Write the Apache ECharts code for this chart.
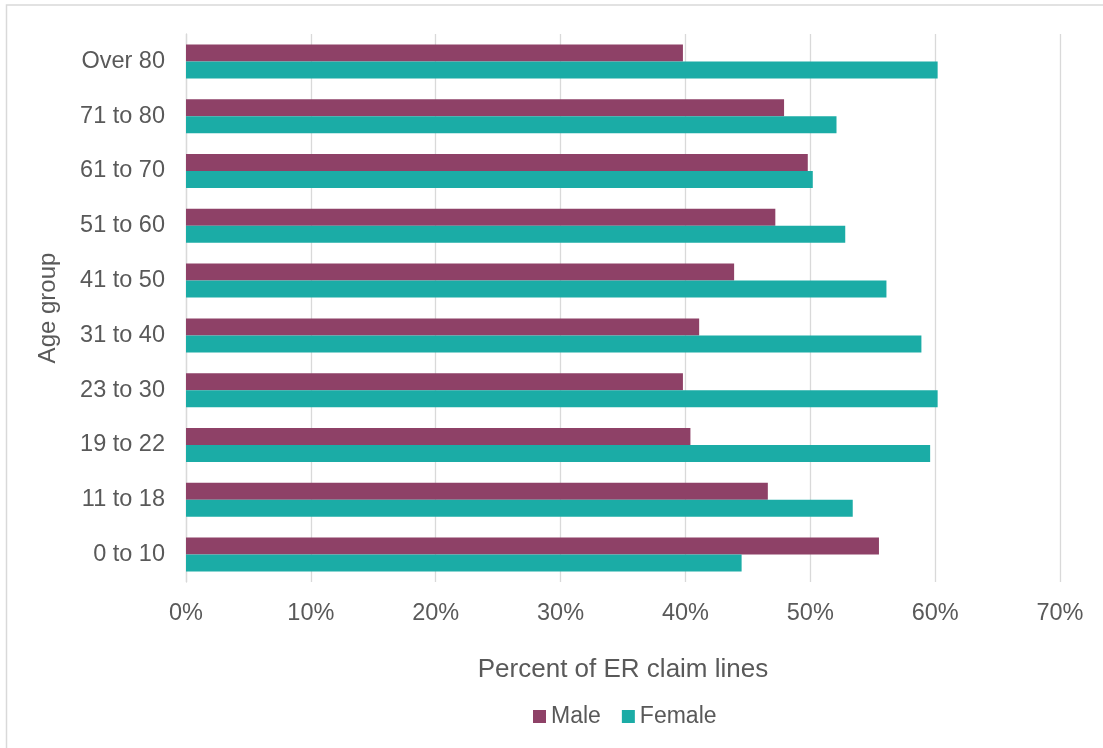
<!DOCTYPE html>
<html>
<head>
<meta charset="utf-8">
<title>ER claim lines by age group and sex</title>
<script src="https://cdn.jsdelivr.net/npm/echarts@6/dist/echarts.min.js"></script>
<style>
  html, body { margin: 0; padding: 0; background: #ffffff; }
  #chart { width: 1103px; height: 748px; }
</style>
</head>
<body>
<div id="chart"></div>
<script>
// Age groups, listed bottom to top on the category axis
const ageGroups = ['0 to 10', '11 to 18', '19 to 22', '23 to 30', '31 to 40',
                   '41 to 50', '51 to 60', '61 to 70', '71 to 80', 'Over 80'];

// Share of ER claim lines (%) for each age group
const maleShare   = [55.5, 46.6, 40.4, 39.8, 41.1, 43.9, 47.2, 49.8, 47.9, 39.8];
const femaleShare = [44.5, 53.4, 59.6, 60.2, 58.9, 56.1, 52.8, 50.2, 52.1, 60.2];

const seriesNames = ['Male', 'Female'];
const xTicks = { min: 0, max: 70, interval: 10 };

const textColor = '#595959';
const gridColor = '#d9d9d9';
const fontFamily = '"Liberation Sans", Arial, sans-serif';

const chart = echarts.init(document.getElementById('chart'), null, { renderer: 'canvas' });

chart.setOption({
  backgroundColor: '#ffffff',
  textStyle: { fontFamily: fontFamily, color: textColor },
  graphic: [{
    type: 'rect',
    shape: { x: 6.5, y: 5, width: 1200, height: 800 },
    style: { fill: 'none', stroke: gridColor, lineWidth: 1.5 },
    silent: true
  }],
  grid: { left: 186, right: 43, top: 34, bottom: 166 },
  legend: {
    data: seriesNames,
    bottom: 15,
    left: 528,
    itemWidth: 13,
    itemHeight: 13,
    itemGap: 21,
    icon: 'rect',
    textStyle: { fontSize: 23, color: textColor, fontFamily: fontFamily }
  },
  xAxis: {
    type: 'value',
    min: xTicks.min,
    max: xTicks.max,
    interval: xTicks.interval,
    name: 'Percent of ER claim lines',
    nameLocation: 'middle',
    nameGap: 75,
    nameTextStyle: { fontSize: 26, color: textColor, fontFamily: fontFamily },
    axisLine: { show: false },
    axisTick: { show: false },
    axisLabel: { formatter: '{value}%', fontSize: 23.5, color: textColor, margin: 20, fontFamily: fontFamily },
    splitLine: { show: true, lineStyle: { color: gridColor, width: 1.3 } }
  },
  yAxis: {
    type: 'category',
    data: ageGroups,
    name: 'Age group',
    nameLocation: 'middle',
    nameGap: 126,
    nameTextStyle: { fontSize: 24, color: textColor, fontFamily: fontFamily },
    axisLine: { show: true, lineStyle: { color: gridColor, width: 1.3 } },
    axisTick: { show: false },
    axisLabel: { fontSize: 23.5, color: textColor, margin: 21, fontFamily: fontFamily },
    splitLine: { show: false }
  },
  series: [
    {
      name: 'Male',
      type: 'bar',
      data: maleShare,
      itemStyle: { color: '#8E4167' },
      barGap: '0%',
      barCategoryGap: '38%',
      animation: false
    },
    {
      name: 'Female',
      type: 'bar',
      data: femaleShare,
      itemStyle: { color: '#1BACA6' },
      barGap: '0%',
      barCategoryGap: '38%',
      animation: false
    }
  ]
});
</script>
</body>
</html>
